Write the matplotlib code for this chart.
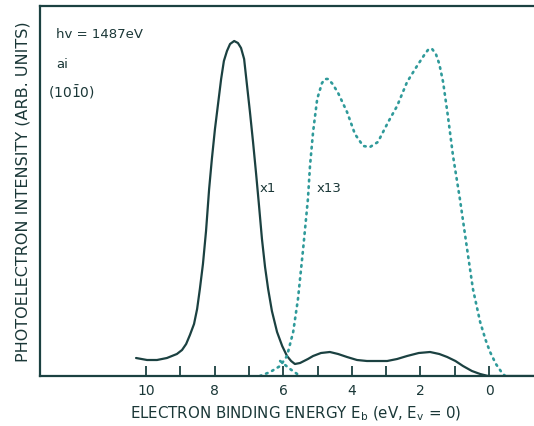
import matplotlib
matplotlib.use("Agg")
import matplotlib.pyplot as plt

# x1 spectrum (solid)
x1_energy = [10.29, 9.97, 9.68, 9.39, 9.10, 8.95, 8.83, 8.72, 8.60, 8.51, 8.43, 8.34, 8.25, 8.16,
             8.08, 7.99, 7.90, 7.81, 7.73, 7.64, 7.55, 7.43, 7.32, 7.23, 7.14, 7.06, 6.97,
             6.88, 6.79, 6.71, 6.62, 6.53, 6.44, 6.33, 6.18, 6.03, 5.89, 5.77, 5.66, 5.51,
             5.28, 5.13, 4.90, 4.64, 4.40, 4.14, 3.85, 3.56, 2.97, 2.68, 2.39, 2.05, 1.72,
             1.45, 1.22, 0.98, 0.76, 0.50, 0.26, 0.03, -1.4]
x1_intensity = [18, 16, 16, 18, 22, 26, 32, 41, 52, 67, 87, 112, 145, 187,
                217, 247, 272, 297, 315, 325, 332, 335, 333, 328, 317, 292, 264,
                234, 202, 172, 137, 109, 87, 65, 44, 30, 20, 15, 12, 13,
                17, 20, 23, 24, 22, 19, 16, 15, 15, 17, 20, 23, 24,
                22, 19, 15, 10, 5, 2, 0, 0]

# x13 spectrum (dotted)
x13_energy = [6.68, 6.38, 6.09, 5.89, 5.71, 5.57, 5.42, 5.28, 5.22, 5.13, 5.01, 4.87, 4.78,
              4.69, 4.56, 4.40, 4.14, 3.91, 3.67, 3.47, 3.24, 2.94, 2.68, 2.39, 2.10, 1.87,
              1.76, 1.66, 1.55, 1.45, 1.34, 1.20, 1.05, 0.85, 0.64, 0.47, 0.26, 0.10, -0.03,
              -0.20, -0.38, -0.47]
x13_intensity = [0, 4, 10, 20, 44, 77, 127, 177, 210, 244, 277, 293, 297,
                 297, 292, 283, 264, 242, 230, 229, 234, 254, 270, 294, 310, 322,
                 327, 327, 322, 312, 294, 260, 220, 177, 127, 87, 54, 36, 24,
                 12, 3, 0]

# short dotted tail crossing near 6 eV
tail_energy = [6.09, 5.80, 5.51]
tail_intensity = [15, 7, 0]

tick_values = list(range(0, 11))
tick_labels = ["0", "", "2", "", "4", "", "6", "", "8", "", "10"]

solid_c = "#1b4141"
dot_c = "#2f9a9a"
text_c = "#1a3737"

fig = plt.figure(figsize=(5.34, 4.27), dpi=100)
ax = fig.add_axes([40/534, 50/427, 494/534, 370/427])

ax.plot(x1_energy, x1_intensity, color=solid_c, lw=1.6, solid_capstyle="round",
        solid_joinstyle="round")
ax.plot(x13_energy, x13_intensity, color=dot_c, lw=1.9, linestyle=(0, (0.6, 1.9)),
        dash_capstyle="round")
ax.plot(tail_energy, tail_intensity, color=dot_c, lw=1.9, linestyle=(0, (0.6, 1.9)),
        dash_capstyle="round")

ax.set_xlim(13.09, -1.31)
ax.set_ylim(0, 370)

ax.spines["right"].set_visible(False)
for s in ["left", "top", "bottom"]:
    ax.spines[s].set_color(solid_c)
    ax.spines[s].set_linewidth(1.6)

ax.set_xticks(tick_values)
ax.set_xticklabels(tick_labels)
ax.set_xticks([10], minor=True)
ax.tick_params(axis="x", which="major", direction="in", length=7, width=1.3,
               color=solid_c, labelsize=10, labelcolor=text_c, pad=5)
ax.tick_params(axis="x", which="minor", direction="in", length=15, width=1.3,
               color=solid_c)
ax.set_yticks([])

ax.set_xlabel(r"ELECTRON BINDING ENERGY E$_\mathrm{b}$ (eV, E$_\mathrm{v}$ = 0)",
              fontsize=10.8, color=text_c)
ax.xaxis.set_label_coords(0.518, -0.075)
ax.set_ylabel("PHOTOELECTRON INTENSITY (ARB. UNITS)", fontsize=11.5, color=text_c,
              labelpad=7)

ax.text(12.62, 342, "hv = 1487eV", fontsize=9.5, color=text_c, va="center", ha="left")
ax.text(12.62, 313, "ai", fontsize=9.5, color=text_c, va="center", ha="left")
ax.text(12.86, 285, r"(10$\bar{1}$0)", fontsize=10, color=text_c, va="center", ha="left")
ax.text(6.68, 188, "x1", fontsize=9.5, color=text_c, va="center", ha="left")
ax.text(5.04, 188, "x13", fontsize=9.5, color=text_c, va="center", ha="left")

fig.savefig("out.png", dpi=100)
